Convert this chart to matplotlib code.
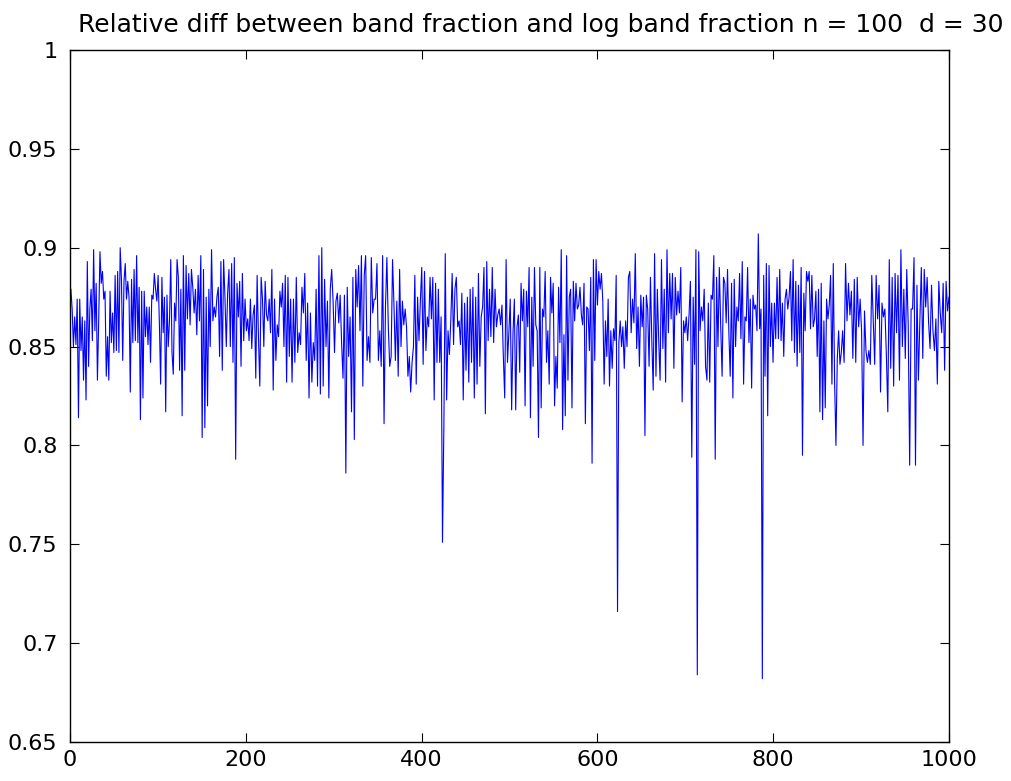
import numpy as np
import matplotlib
matplotlib.use("Agg")
import matplotlib.pyplot as plt
from matplotlib.ticker import FormatStrFormatter

plt.rcParams['font.family'] = ['DejaVu Sans']

# x-range (sample index) covered by each segment of readings
seg_edges = [1, 129, 251, 375, 504, 629, 745, 879, 1000]

seg1 = [0.879, 0.869, 0.850, 0.865, 0.851, 0.874, 0.814, 0.874, 0.848, 0.865, 0.833, 0.863, 0.823, 0.893,
        0.840, 0.869, 0.879, 0.853, 0.899, 0.858, 0.882, 0.833, 0.863, 0.898, 0.882, 0.888, 0.874, 0.878,
        0.835, 0.855, 0.833, 0.878, 0.852, 0.867, 0.847, 0.886, 0.848, 0.888, 0.847, 0.900, 0.884, 0.843,
        0.883, 0.892, 0.874, 0.883, 0.875, 0.827, 0.884, 0.852, 0.889, 0.853, 0.896, 0.852, 0.880, 0.813,
        0.878, 0.824, 0.878, 0.855, 0.870, 0.851, 0.870, 0.842, 0.876, 0.874, 0.887, 0.879, 0.873, 0.886,
        0.862, 0.831, 0.885, 0.857, 0.875, 0.817, 0.876, 0.850, 0.863, 0.894, 0.847, 0.836, 0.872, 0.863,
        0.894, 0.885, 0.838, 0.879, 0.815]
seg2 = [0.896, 0.838, 0.891, 0.864, 0.887, 0.861, 0.889, 0.880, 0.867, 0.879, 0.856, 0.886, 0.863, 0.896,
        0.804, 0.889, 0.809, 0.875, 0.820, 0.879, 0.850, 0.899, 0.863, 0.870, 0.865, 0.875, 0.880, 0.845,
        0.893, 0.838, 0.894, 0.875, 0.850, 0.877, 0.889, 0.850, 0.892, 0.842, 0.895, 0.793, 0.882, 0.865,
        0.883, 0.840, 0.887, 0.853, 0.874, 0.858, 0.864, 0.853, 0.874, 0.849, 0.866, 0.871, 0.834, 0.886,
        0.855, 0.830, 0.885, 0.874, 0.850, 0.883, 0.866, 0.863, 0.874, 0.857, 0.889, 0.828, 0.874, 0.843,
        0.861, 0.855, 0.878, 0.870, 0.882, 0.850, 0.886, 0.832, 0.885, 0.845]
seg3 = [0.874, 0.832, 0.874, 0.842, 0.885, 0.847, 0.857, 0.851, 0.880, 0.867, 0.887, 0.843, 0.872, 0.824,
        0.867, 0.832, 0.852, 0.843, 0.879, 0.830, 0.896, 0.826, 0.900, 0.830, 0.884, 0.850, 0.873, 0.824,
        0.879, 0.889, 0.873, 0.847, 0.873, 0.877, 0.862, 0.876, 0.852, 0.834, 0.876, 0.786, 0.880, 0.845,
        0.865, 0.817, 0.885, 0.803, 0.889, 0.870, 0.891, 0.858, 0.896, 0.830, 0.886, 0.896, 0.843, 0.855,
        0.842, 0.895, 0.867, 0.874, 0.874, 0.892, 0.843, 0.858, 0.840, 0.896, 0.811, 0.870, 0.895, 0.860,
        0.840, 0.845, 0.894, 0.871, 0.843, 0.873, 0.835]
seg4 = [0.889, 0.850, 0.873, 0.861, 0.869, 0.860, 0.835, 0.845, 0.827, 0.842, 0.850, 0.886, 0.831, 0.875,
        0.853, 0.873, 0.890, 0.841, 0.888, 0.848, 0.865, 0.860, 0.885, 0.864, 0.885, 0.823, 0.882, 0.842,
        0.879, 0.842, 0.865, 0.751, 0.810, 0.897, 0.823, 0.858, 0.846, 0.863, 0.887, 0.851, 0.879, 0.885,
        0.860, 0.863, 0.851, 0.877, 0.823, 0.872, 0.838, 0.875, 0.832, 0.879, 0.842, 0.880, 0.824, 0.875,
        0.831, 0.887, 0.840, 0.865, 0.870, 0.890, 0.816, 0.893, 0.853, 0.879, 0.855, 0.890, 0.852, 0.879,
        0.860, 0.866, 0.869, 0.861, 0.871, 0.845, 0.824, 0.894, 0.842, 0.857, 0.874, 0.818]
seg5 = [0.857, 0.874, 0.818, 0.860, 0.866, 0.837, 0.882, 0.863, 0.879, 0.820, 0.878, 0.860, 0.890, 0.814,
        0.875, 0.840, 0.890, 0.861, 0.858, 0.804, 0.890, 0.819, 0.869, 0.865, 0.888, 0.842, 0.858, 0.831,
        0.885, 0.867, 0.882, 0.820, 0.845, 0.829, 0.880, 0.852, 0.899, 0.808, 0.856, 0.815, 0.896, 0.833,
        0.875, 0.879, 0.819, 0.883, 0.863, 0.882, 0.869, 0.871, 0.880, 0.866, 0.861, 0.882, 0.811, 0.870,
        0.869, 0.848, 0.885, 0.791, 0.894, 0.843, 0.894, 0.871, 0.888, 0.879, 0.887, 0.873, 0.831, 0.863,
        0.845, 0.874, 0.830, 0.858, 0.839, 0.859, 0.853, 0.886, 0.716, 0.852, 0.863, 0.850]
seg6 = [0.860, 0.839, 0.863, 0.850, 0.885, 0.888, 0.857, 0.874, 0.862, 0.897, 0.849, 0.870, 0.840, 0.876,
        0.860, 0.875, 0.805, 0.876, 0.869, 0.840, 0.885, 0.853, 0.828, 0.897, 0.835, 0.879, 0.853, 0.833,
        0.894, 0.849, 0.879, 0.832, 0.899, 0.857, 0.887, 0.864, 0.887, 0.839, 0.885, 0.866, 0.878, 0.867,
        0.890, 0.822, 0.863, 0.857, 0.865, 0.853, 0.866, 0.883, 0.794, 0.875, 0.841, 0.899, 0.684, 0.898,
        0.858, 0.870, 0.863, 0.879, 0.840, 0.833, 0.872, 0.832, 0.876, 0.874, 0.896, 0.793, 0.885, 0.850,
        0.890, 0.860, 0.835, 0.885]
seg7 = [0.882, 0.862, 0.889, 0.857, 0.835, 0.882, 0.824, 0.884, 0.850, 0.870, 0.863, 0.887, 0.854, 0.893,
        0.831, 0.865, 0.863, 0.890, 0.852, 0.874, 0.829, 0.876, 0.869, 0.871, 0.858, 0.907, 0.859, 0.869,
        0.682, 0.886, 0.835, 0.892, 0.815, 0.891, 0.850, 0.872, 0.842, 0.872, 0.854, 0.885, 0.854, 0.889,
        0.853, 0.872, 0.845, 0.874, 0.879, 0.869, 0.875, 0.888, 0.853, 0.894, 0.847, 0.883, 0.840, 0.881,
        0.847, 0.890, 0.795, 0.877, 0.858, 0.888, 0.883, 0.888, 0.859, 0.886, 0.860, 0.864, 0.878, 0.845,
        0.879, 0.817, 0.882, 0.813, 0.863, 0.819, 0.874, 0.864, 0.871, 0.886, 0.831, 0.892, 0.832, 0.800,
        0.844, 0.858, 0.841, 0.847]
seg8 = [0.858, 0.842, 0.892, 0.863, 0.882, 0.866, 0.878, 0.844, 0.884, 0.842, 0.885, 0.860, 0.874, 0.858,
        0.800, 0.868, 0.848, 0.842, 0.848, 0.841, 0.886, 0.863, 0.841, 0.886, 0.864, 0.881, 0.827, 0.872,
        0.865, 0.869, 0.846, 0.817, 0.894, 0.839, 0.885, 0.830, 0.887, 0.857, 0.886, 0.833, 0.899, 0.850,
        0.879, 0.844, 0.889, 0.861, 0.790, 0.869, 0.869, 0.895, 0.790, 0.881, 0.833, 0.863, 0.890, 0.844,
        0.889, 0.870, 0.885, 0.862, 0.849, 0.881, 0.858, 0.848, 0.864, 0.831, 0.883, 0.867, 0.857, 0.882,
        0.838, 0.883, 0.868, 0.875]
segments = [seg1, seg2, seg3, seg4, seg5, seg6, seg7, seg8]

x_ticks = [0, 200, 400, 600, 800, 1000]
y_ticks = [0.65, 0.7, 0.75, 0.8, 0.85, 0.9, 0.95, 1.0]
title = "Relative diff between band fraction and log band fraction n = 100  d = 30"

xs, ys = [], []
for i, seg in enumerate(segments):
    last = i == len(segments) - 1
    xs.append(np.linspace(seg_edges[i], seg_edges[i + 1], len(seg), endpoint=last))
    ys.append(np.array(seg))
x = np.concatenate(xs)
y = np.concatenate(ys)

fig = plt.figure(figsize=(10.11, 7.81), dpi=100)
ax = fig.add_axes([70 / 1011, 39 / 781, 879 / 1011, 692 / 781])
ax.plot(x, y, color=(0, 0, 1), lw=0.8)
ax.set_xlim(0, 1000)
ax.set_ylim(0.65, 1)
ax.set_xticks(x_ticks)
ax.set_yticks(y_ticks)
ax.yaxis.set_major_formatter(FormatStrFormatter('%g'))
ax.tick_params(direction='in', length=6.5, width=0.8, top=True, right=True,
               labelsize=16, colors='black')
ax.tick_params(axis='y', pad=9)
ax.tick_params(axis='x', pad=6)
for s in ax.spines.values():
    s.set_linewidth(1.0)
ax.set_title(title, fontsize=18, x=0.536, pad=13)

fig.savefig("out.png", dpi=100)
